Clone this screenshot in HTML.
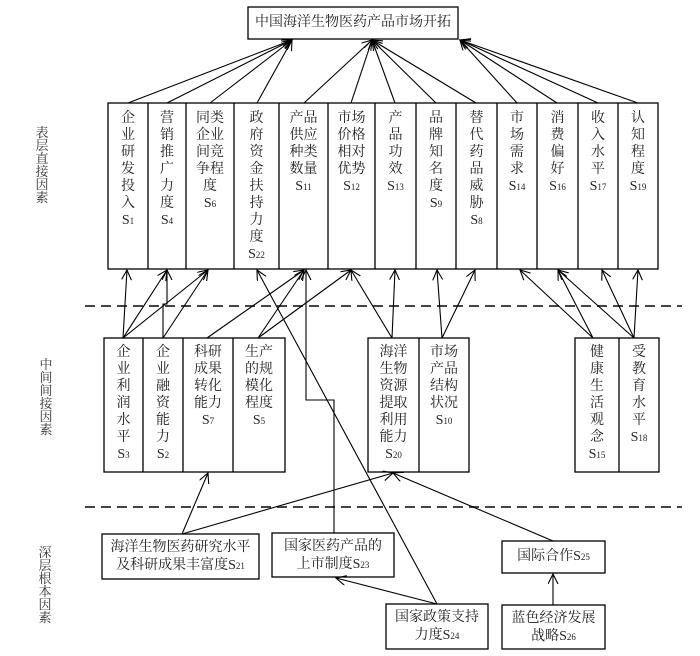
<!DOCTYPE html>
<html><head><meta charset="utf-8"><style>
body{margin:0;background:#fff;}
#c{position:relative;width:700px;height:656px;overflow:hidden;background:#fff;font-family:"Liberation Serif","Noto Serif CJK SC","Noto Sans CJK SC",serif;color:#222;}
svg{position:absolute;left:0;top:0;}
.t{position:absolute;text-align:center;font-size:14px;line-height:17px;}
.s{font-size:9px;}
.lab{position:absolute;width:16px;font-size:13px;line-height:13px;text-align:center;color:#333;}
</style></head><body><div id="c">
<svg width="700" height="656" viewBox="0 0 700 656">
<defs><marker id="a" markerWidth="12" markerHeight="12" refX="10" refY="5" orient="auto" markerUnits="userSpaceOnUse"><path d="M0,0 L10,5 L0,10" fill="none" stroke="#000" stroke-width="1.1"/></marker></defs>
<g fill="none" stroke="#000" stroke-width="1.3">
<rect x="248" y="7" width="210" height="32"/>
<rect x="108" y="103" width="550" height="166"/>
<path d="M148 103V269M186 103V269M234 103V269M279 103V269M328 103V269M375 103V269M416 103V269M456 103V269M497 103V269M537 103V269M578 103V269M618 103V269"/>
<rect x="104" y="338" width="181" height="134"/>
<path d="M143 338V472M183 338V472M233 338V472"/>
<rect x="368" y="338" width="101" height="134"/>
<path d="M419 338V472"/>
<rect x="575" y="338" width="84" height="134"/>
<path d="M619 338V472"/>
<rect x="102" y="534" width="157" height="45"/>
<rect x="272" y="533" width="122" height="44"/>
<rect x="502" y="541" width="103" height="32"/>
<rect x="386" y="604" width="102" height="45"/>
<rect x="502" y="605" width="103" height="44"/>
</g>
<g stroke="#444" stroke-width="2" stroke-dasharray="10,6">
<line x1="85" y1="306" x2="682" y2="306"/>
<line x1="85" y1="507" x2="682" y2="507"/>
</g>
<g fill="none" stroke="#000" stroke-width="1.1" marker-end="url(#a)">
<line x1="128" y1="103" x2="292" y2="40"/>
<line x1="167" y1="103" x2="292" y2="40"/>
<line x1="210" y1="103" x2="292" y2="40"/>
<line x1="257" y1="103" x2="292" y2="40"/>
<line x1="304" y1="103" x2="372" y2="40"/>
<line x1="351" y1="103" x2="372" y2="40"/>
<line x1="395" y1="103" x2="372" y2="40"/>
<line x1="436" y1="103" x2="372" y2="40"/>
<line x1="476" y1="103" x2="372" y2="40"/>
<line x1="517" y1="103" x2="460" y2="40"/>
<line x1="557" y1="103" x2="460" y2="40"/>
<line x1="598" y1="103" x2="460" y2="40"/>
<line x1="638" y1="103" x2="460" y2="40"/>
<line x1="123" y1="338" x2="127" y2="270"/>
<line x1="123" y1="338" x2="167" y2="270"/>
<line x1="123" y1="338" x2="208" y2="270"/>
<polyline points="163,338 163,304 167,304 167,270"/>
<line x1="163" y1="338" x2="208" y2="270"/>
<line x1="207" y1="338" x2="304" y2="270"/>
<line x1="258" y1="338" x2="304" y2="270"/>
<line x1="258" y1="338" x2="351" y2="270"/>
<line x1="392" y1="338" x2="351" y2="270"/>
<line x1="392" y1="338" x2="395" y2="270"/>
<line x1="442" y1="338" x2="437" y2="270"/>
<line x1="442" y1="338" x2="475" y2="270"/>
<line x1="593" y1="338" x2="520" y2="270"/>
<line x1="593" y1="338" x2="558" y2="270"/>
<line x1="634" y1="338" x2="558" y2="270"/>
<line x1="634" y1="338" x2="602" y2="270"/>
<line x1="634" y1="338" x2="638" y2="270"/>
<line x1="437" y1="604" x2="257" y2="270"/>
<polyline points="334,533 334,400 306,400 306,270"/>
<line x1="182" y1="534" x2="208" y2="473"/>
<line x1="182" y1="534" x2="393" y2="473"/>
<line x1="553" y1="541" x2="393" y2="473"/>
<line x1="437" y1="604" x2="336" y2="578"/>
<line x1="553" y1="605" x2="553" y2="574"/>
</g>
</svg>
<div class="t" style="left:248px;top:14px;width:210px;">中国海洋生物医药产品市场开拓</div>
<div class="t" style="left:108px;top:110px;width:40px;">企<br>业<br>研<br>发<br>投<br>入<br>S<span class="s">1</span></div>
<div class="t" style="left:148px;top:110px;width:38px;">营<br>销<br>推<br>广<br>力<br>度<br>S<span class="s">4</span></div>
<div class="t" style="left:186px;top:110px;width:48px;">同类<br>企业<br>间竞<br>争程<br>度<br>S<span class="s">6</span></div>
<div class="t" style="left:234px;top:110px;width:45px;">政<br>府<br>资<br>金<br>扶<br>持<br>力<br>度<br>S<span class="s">22</span></div>
<div class="t" style="left:279px;top:110px;width:49px;">产品<br>供应<br>种类<br>数量<br>S<span class="s">11</span></div>
<div class="t" style="left:328px;top:110px;width:47px;">市场<br>价格<br>相对<br>优势<br>S<span class="s">12</span></div>
<div class="t" style="left:375px;top:110px;width:41px;">产<br>品<br>功<br>效<br>S<span class="s">13</span></div>
<div class="t" style="left:416px;top:110px;width:40px;">品<br>牌<br>知<br>名<br>度<br>S<span class="s">9</span></div>
<div class="t" style="left:456px;top:110px;width:41px;">替<br>代<br>药<br>品<br>威<br>胁<br>S<span class="s">8</span></div>
<div class="t" style="left:497px;top:110px;width:40px;">市<br>场<br>需<br>求<br>S<span class="s">14</span></div>
<div class="t" style="left:537px;top:110px;width:41px;">消<br>费<br>偏<br>好<br>S<span class="s">16</span></div>
<div class="t" style="left:578px;top:110px;width:40px;">收<br>入<br>水<br>平<br>S<span class="s">17</span></div>
<div class="t" style="left:618px;top:110px;width:40px;">认<br>知<br>程<br>度<br>S<span class="s">19</span></div>
<div class="t" style="left:104px;top:344px;width:39px;">企<br>业<br>利<br>润<br>水<br>平<br>S<span class="s">3</span></div>
<div class="t" style="left:143px;top:344px;width:40px;">企<br>业<br>融<br>资<br>能<br>力<br>S<span class="s">2</span></div>
<div class="t" style="left:183px;top:344px;width:50px;">科研<br>成果<br>转化<br>能力<br>S<span class="s">7</span></div>
<div class="t" style="left:233px;top:344px;width:52px;">生产<br>的规<br>模化<br>程度<br>S<span class="s">5</span></div>
<div class="t" style="left:368px;top:344px;width:51px;">海洋<br>生物<br>资源<br>提取<br>利用<br>能力<br>S<span class="s">20</span></div>
<div class="t" style="left:419px;top:344px;width:50px;">市场<br>产品<br>结构<br>状况<br>S<span class="s">10</span></div>
<div class="t" style="left:575px;top:344px;width:44px;">健<br>康<br>生<br>活<br>观<br>念<br>S<span class="s">15</span></div>
<div class="t" style="left:619px;top:344px;width:40px;">受<br>教<br>育<br>水<br>平<br>S<span class="s">18</span></div>
<div class="t" style="left:102px;top:539px;width:157px;line-height:18px;">海洋生物医药研究水平<br>及科研成果丰富度S<span class="s">21</span></div>
<div class="t" style="left:272px;top:538px;width:122px;line-height:18px;">国家医药产品的<br>上市制度S<span class="s">23</span></div>
<div class="t" style="left:502px;top:548px;width:103px;">国际合作S<span class="s">25</span></div>
<div class="t" style="left:386px;top:609px;width:102px;line-height:18px;">国家政策支持<br>力度S<span class="s">24</span></div>
<div class="t" style="left:502px;top:610px;width:103px;line-height:18px;">蓝色经济发展<br>战略S<span class="s">26</span></div>
<div class="lab" style="left:34px;top:126px;">表<br>层<br>直<br>接<br>因<br>素</div>
<div class="lab" style="left:38px;top:358px;">中<br>间<br>间<br>接<br>因<br>素</div>
<div class="lab" style="left:37px;top:546px;">深<br>层<br>根<br>本<br>因<br>素</div>
</div></body></html>
